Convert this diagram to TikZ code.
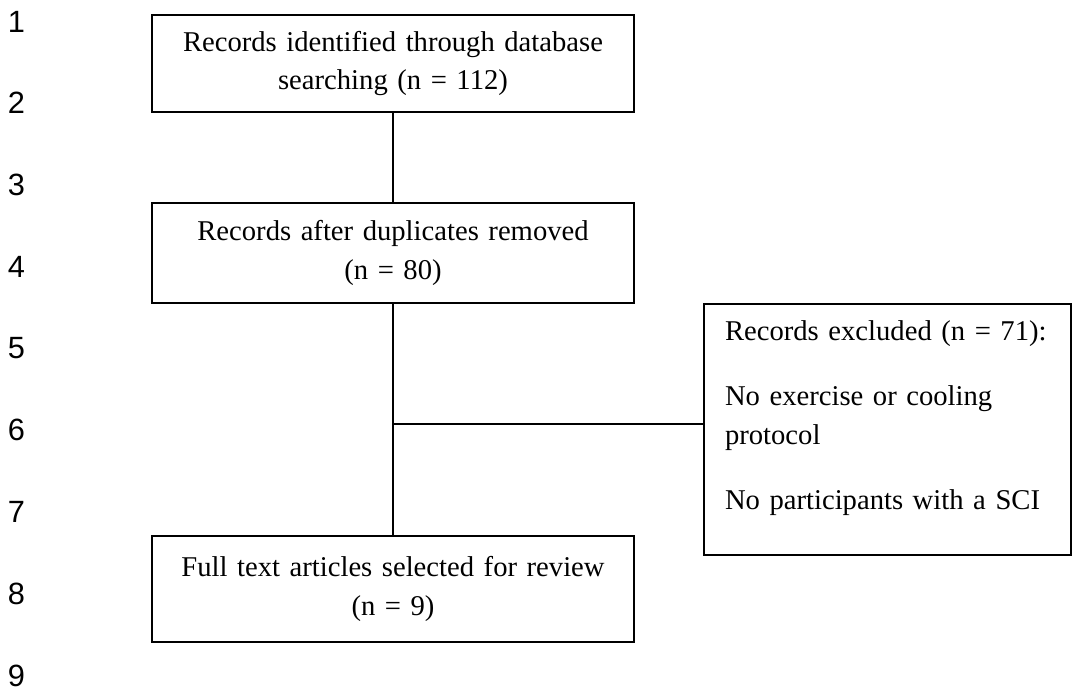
\documentclass[tikz,border=0pt]{standalone}
\usepackage{fontspec}
\setmainfont{Liberation Serif}
\newfontfamily\numfont{Liberation Sans}
\usetikzlibrary{positioning}

\begin{document}
\begin{tikzpicture}[node distance=3.79cm and 1cm,on grid,line width=1.1pt,
    box/.style={draw,align=center,text width=9cm,minimum width=9.65cm,minimum height=2cm,
                font=\fontsize{16.3}{21.8}\selectfont},
    lineno/.style={font=\numfont\fontsize{17.5}{20}\selectfont}]
\useasboundingbox (0,0) rectangle (21.46,-13.94);
\foreach \n in {1,...,9}
    \node[lineno] (ln\n) at (0.33,{-0.43-1.635*(\n-1)}) {\n};
\node[box,minimum height=1.94cm] (ident) at (7.86,-1.27) {Records identified through database\\searching (n = 112)};
\node[box] (dup) [below=of ident] {Records after duplicates removed\\(n = 80)};
\node[box,minimum height=2.12cm] (final) [below=6.72cm of dup] {Full text articles selected for review\\(n = 9)};
\coordinate[below=3.42cm of dup] (split);
\node[box,align=left,text width=6.5cm,minimum width=7.34cm,minimum height=5.02cm,inner xsep=0pt,
      font=\fontsize{16.3}{22.1}\selectfont] (excl) at ([xshift=9.89cm,yshift=-0.11cm]split)
    {Records excluded (n = 71):\\[0.52cm]No exercise or cooling\\protocol\\[0.52cm]No participants with a SCI\\[-0.2cm]\mbox{}};
\draw (ident) -- (dup)
      (dup) -- (final)
      (split) -- (split -| excl.west);
\end{tikzpicture}
\end{document}
